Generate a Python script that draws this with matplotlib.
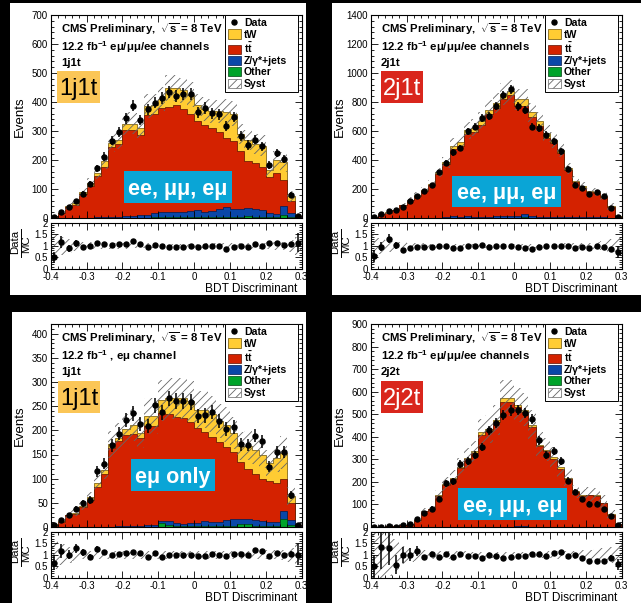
import numpy as np
import matplotlib
matplotlib.use('Agg')
import matplotlib.pyplot as plt
from matplotlib.patches import Rectangle, Patch
from matplotlib.lines import Line2D
from matplotlib.ticker import MultipleLocator, FuncFormatter

plt.rcParams['font.family'] = ['Liberation Sans', 'DejaVu Sans']
plt.rcParams['mathtext.fontset'] = 'custom'
plt.rcParams['mathtext.rm'] = 'Liberation Sans'
plt.rcParams['mathtext.bf'] = 'Liberation Sans:bold'
plt.rcParams['mathtext.it'] = 'Liberation Sans:italic'
plt.rcParams['hatch.linewidth'] = 0.6

# bins of the BDT discriminant
edges = np.linspace(-0.4, 0.3, 36)
centers = 0.5 * (edges[1:] + edges[:-1])

# 1j1t, ee/mumu/emu
tt_1 = [7,16,38,44,81,111,143,172,242,251,299,297,275,346,342,358,361,366,355,336,308,298,286,265,238,233,199,162,158,148,125,141,92,42,3]
tw_1 = [1,2,3,6,6,8,10,20,15,15,20,20,25,30,30,30,65,60,65,65,55,55,60,73,90,95,60,75,65,75,23,45,60,15,1]
zj_1 = [0,0,0,1,1,1,2,3,3,4,6,8,10,10,14,18,20,20,18,22,25,20,22,28,35,30,28,25,30,25,15,12,28,15,3]
ot_1 = [0,0,0,0,0,0,0,0,0,0,0,0,0,0,4,4,2,2,2,2,2,2,2,2,2,2,3,8,2,2,2,2,12,3,0]
data_1 = [4,21,37,57,83,117,171,212,267,296,344,387,338,375,398,413,433,422,427,427,364,379,361,358,318,348,283,252,270,247,184,224,203,80,8]
syst_1 = [0.5,0.4,0.3,0.22,0.17,0.15,0.14,0.13,0.12,0.12,0.12,0.11,0.11,0.11,0.1,0.1,0.1,0.1,0.1,0.1,0.1,0.11,0.11,0.11,0.12,0.12,0.12,0.13,0.13,0.14,0.15,0.16,0.18,0.25,0.4]

# 2j1t, ee/mumu/emu
tt_2 = [8,26,35,52,87,119,153,182,225,303,369,458,492,567,584,634,708,745,808,830,758,741,687,628,548,504,438,323,239,204,172,161,144,75,9]
tw_2 = [1,2,2,3,4,5,6,6,8,8,10,25,25,25,30,30,30,35,35,30,50,50,30,30,30,25,25,15,12,10,8,8,6,3,1]
zj_2 = [0,0,1,1,1,2,2,2,3,3,4,15,5,10,8,6,6,10,8,12,8,18,8,6,5,8,5,4,4,3,3,6,3,2,1]
ot_2 = [0,0,0,0,0,0,0,0,0,0,0,2,1,2,2,2,2,2,3,3,3,10,3,2,2,2,2,2,2,1,1,2,1,0,0]
data_2 = [5,27,50,57,76,115,154,184,227,314,379,452,482,597,631,689,705,773,849,888,769,746,631,620,574,528,459,337,230,207,168,179,149,69,8]
syst_2 = [0.45,0.35,0.25,0.2,0.15,0.13,0.12,0.11,0.1,0.1,0.1,0.1,0.1,0.1,0.09,0.09,0.09,0.09,0.09,0.09,0.09,0.09,0.09,0.1,0.1,0.1,0.1,0.11,0.12,0.13,0.14,0.16,0.2,0.28,0.4]

# 1j1t, emu only
tt_3 = [5,11,24,27,41,56,81,109,162,175,188,189,182,206,206,222,221,219,218,209,197,185,177,165,151,139,119,104,96,88,85,82,67,35,2]
tw_3 = [1,1,1,2,3,6,10,7,8,8,12,20,10,20,20,27,33,39,41,43,38,46,46,44,47,40,33,48,49,50,38,51,54,14,1]
zj_3 = [0,0,0,0,0,0,1,1,1,2,2,3,3,4,4,5,8,6,5,7,6,10,8,8,12,14,10,10,12,10,8,8,17,10,2]
ot_3 = [0,0,0,0,0,0,0,0,0,0,0,0,0,0,0,8,4,2,2,2,2,2,2,2,2,2,6,6,2,2,2,2,16,5,0]
data_3 = [4,14,25,37,49,56,115,131,169,193,221,235,213,208,252,237,266,261,261,259,230,231,238,219,202,206,171,170,189,177,125,156,156,66,5]
syst_3 = [0.6,0.45,0.35,0.25,0.2,0.18,0.17,0.16,0.16,0.16,0.16,0.16,0.16,0.16,0.16,0.16,0.16,0.16,0.16,0.16,0.16,0.16,0.16,0.16,0.17,0.17,0.17,0.18,0.18,0.19,0.2,0.2,0.22,0.3,0.5]

# 2j2t, ee/mumu/emu
tt_4 = [2,1.5,2.3,3.5,9,13,29,71,78,137,185,212,261,299,327,408,423,463,555,555,527,505,443,356,334,302,258,212,154,136,140,136,106,55,12]
tw_4 = [0,0,0,0,0,0,1,1,2,3,4,5,5,6,8,10,10,12,15,15,12,12,10,8,8,6,6,5,4,3,3,3,2,1,0]
zj_4 = [0,0,0,0,0,0,0,0,0,0,1,1,1,1,1,2,1,1,1,1,3,3,1,1,1,1,1,1,1,1,1,1,0,0,0]
ot_4 = [0]*35
data_4 = [1,2,3,2,9,13,35,64,82,125,193,202,280,292,321,355,429,461,498,517,520,505,479,384,321,336,292,206,155,122,103,103,81,49,7]
syst_4 = [1.2,1.0,0.9,0.7,0.4,0.3,0.25,0.2,0.18,0.17,0.16,0.15,0.15,0.15,0.14,0.14,0.14,0.14,0.14,0.14,0.14,0.14,0.14,0.15,0.15,0.15,0.16,0.17,0.18,0.2,0.22,0.25,0.3,0.35,0.45]

c_tw = '#FFCC33'
c_tt = '#D42200'
c_zj = '#0A47A8'
c_ot = '#00A32A'
c_hatch = '#666666'

W, H = 641, 603
fig = plt.figure(figsize=(W / 100, H / 100), dpi=100, facecolor='black')


def rect(x0, y0, x1, y1):
    return [x0 / W, 1 - y1 / H, (x1 - x0) / W, (y1 - y0) / H]


def pt(x, y):
    return x / W, 1 - y / H


def box(x0, y0, x1, y1, color, z):
    fig.add_artist(Rectangle((x0 / W, 1 - y1 / H), (x1 - x0) / W, (y1 - y0) / H,
                             transform=fig.transFigure, facecolor=color, edgecolor='none',
                             zorder=z))


# white pads, behind the axes
box(10, 3, 306, 295, 'white', -10)
box(332, 3, 641, 295, 'white', -10)
box(12, 312, 306, 603, 'white', -10)
box(332, 312, 641, 603, 'white', -10)


def style(ax, major, minor):
    ax.set_xlim(-0.4, 0.3)
    ax.xaxis.set_major_locator(MultipleLocator(0.1))
    ax.xaxis.set_minor_locator(MultipleLocator(0.02))
    ax.yaxis.set_major_locator(MultipleLocator(major))
    ax.yaxis.set_minor_locator(MultipleLocator(minor))
    ax.tick_params(which='both', direction='in', top=True, right=True, labelsize=7, pad=2)
    ax.tick_params(which='major', length=5, width=0.6)
    ax.tick_params(which='minor', length=2.5, width=0.6)
    ax.set_facecolor('white')
    for s in ax.spines.values():
        s.set_linewidth(0.8)


def panel(dx, dy, tt, tw, zj, ot, data, syst, ymax, major, minor, lumi, cat):
    tt, tw, zj, ot = map(np.array, (tt, tw, zj, ot))
    data = np.array(data, dtype=float)
    syst = np.array(syst)
    c_o = ot
    c_z = c_o + zj
    c_t = c_z + tt
    tot = c_t + tw

    ax = fig.add_axes(rect(50.7 + dx, 15 + dy, 301.7 + dx, 218 + dy))
    ax.stairs(tot, edges, fill=True, facecolor=c_tw, edgecolor='#6b5000', lw=0.5)
    ax.stairs(c_t, edges, fill=True, facecolor=c_tt, edgecolor='#5a1000', lw=0.5)
    ax.stairs(c_z, edges, fill=True, facecolor=c_zj, edgecolor='#001a50', lw=0.5)
    ax.stairs(c_o, edges, fill=True, facecolor=c_ot, edgecolor='#004010', lw=0.5)
    ax.stairs(tot * (1 + syst), edges, baseline=tot * (1 - syst), fill=True,
              facecolor='none', edgecolor=c_hatch, hatch='////', lw=0)
    ax.errorbar(centers, data, yerr=np.sqrt(data), fmt='o', ms=3.6, color='black',
                elinewidth=1.1, capsize=0, zorder=5)
    ax.set_ylim(0, ymax)
    style(ax, major, minor)
    ax.tick_params(labelbottom=False)
    ax.yaxis.set_major_formatter(FuncFormatter(lambda v, p: '%d' % v))

    handles = [Line2D([], [], marker='o', ms=3.6, color='black', ls='none'),
               Patch(facecolor=c_tw, edgecolor='#6b5000', lw=0.5),
               Patch(facecolor=c_tt, edgecolor='#5a1000', lw=0.5),
               Patch(facecolor=c_zj, edgecolor='#001a50', lw=0.5),
               Patch(facecolor=c_ot, edgecolor='#004010', lw=0.5),
               Patch(facecolor='white', edgecolor=c_hatch, hatch='////', lw=0.5)]
    labels = ['Data', 'tW', r'$\mathbf{t\bar{t}}$', 'Z/γ*+jets', 'Other', 'Syst']
    leg = ax.legend(handles, labels, loc='upper left', mode='expand',
                    bbox_to_anchor=(0.694, 0.0, 0.291, 1.0),
                    prop={'size': 7.6, 'weight': 'bold'}, frameon=True, fancybox=False,
                    edgecolor='black', framealpha=1, borderpad=0.3, labelspacing=0.1,
                    handlelength=1.2, handleheight=0.95, handletextpad=0.3, borderaxespad=0)
    leg.get_frame().set_linewidth(0.7)
    leg.set_zorder(10)

    fig.text(*pt(61 + dx, 29 + dy), r'CMS Preliminary,  $\sqrt{\mathbf{s}}$ = 8 TeV',
             fontsize=8.2, fontweight='bold', va='center')
    fig.text(*pt(61 + dx, 47 + dy), lumi, fontsize=8.2, fontweight='bold', va='center')
    fig.text(*pt(61 + dx, 63 + dy), cat, fontsize=8.2, fontweight='bold', va='center')

    fig.text(*pt(20 + dx, 117 + dy), 'Events', rotation=90, fontsize=9.5,
             ha='center', va='center')

    rx = fig.add_axes(rect(50.7 + dx, 222.7 + dy, 301.7 + dx, 269 + dy))
    rx.stairs(1 + syst, edges, baseline=1 - syst, fill=True, facecolor='none',
              edgecolor=c_hatch, hatch='////', lw=0)
    rx.errorbar(centers, data / tot, yerr=np.sqrt(data) / tot, fmt='o', ms=3.6,
                color='black', elinewidth=1.1, capsize=0, zorder=5)
    rx.set_ylim(0, 2)
    style(rx, 0.5, 0.1)
    rx.yaxis.set_major_formatter(FuncFormatter(lambda v, p: '%g' % v))
    rx.xaxis.set_major_formatter(FuncFormatter(lambda v, p: '%g' % round(v, 2)))

    # Data / MC written as a rotated fraction
    fig.text(*pt(15 + dx, 242 + dy), 'Data', rotation=90, fontsize=8.2,
             ha='center', va='center')
    fig.text(*pt(26.5 + dx, 244 + dy), 'MC', rotation=90, fontsize=8.2,
             ha='center', va='center')
    x_bar = (20.8 + dx) / W
    fig.add_artist(Line2D([x_bar, x_bar], [1 - (229 + dy) / H, 1 - (257 + dy) / H],
                          transform=fig.transFigure, color='black', lw=0.7))

    fig.text(*pt(297 + dx, 289 + dy), 'BDT Discriminant', fontsize=8.6,
             ha='right', va='center')


lumi_all = r'12.2 fb$^{\mathbf{-1}}$ eμ/μμ/ee channels'
lumi_em = r'12.2 fb$^{\mathbf{-1}}$ , eμ channel'

panel(0, 0, tt_1, tw_1, zj_1, ot_1, data_1, syst_1, 700, 100, 20, lumi_all, '1j1t')
panel(320, 0, tt_2, tw_2, zj_2, ot_2, data_2, syst_2, 1400, 200, 40, lumi_all, '2j1t')
panel(0, 309, tt_3, tw_3, zj_3, ot_3, data_3, syst_3, 420, 50, 10, lumi_em, '1j1t')
panel(320, 309, tt_4, tw_4, zj_4, ot_4, data_4, syst_4, 900, 100, 20, lumi_all, '2j2t')

# overlay tags
c_orange = '#FBC657'
c_red = '#D9261C'
c_cyan = '#0AA5D6'


def tag(x0, y0, x1, y1, color, text, tcolor, size, weight):
    box(x0, y0, x1, y1, color, 20)
    fig.text(*pt((x0 + x1) / 2, (y0 + y1) / 2), text, color=tcolor, fontsize=size,
             fontweight=weight, ha='center', va='center_baseline', zorder=21)


tag(57, 71, 100, 103, c_orange, '1j1t', 'black', 17, 'normal')
tag(381, 71, 423, 103, c_red, '2j1t', 'white', 17, 'normal')
tag(58, 381, 100, 413, c_orange, '1j1t', 'black', 17, 'normal')
tag(381, 381, 423, 413, c_red, '2j2t', 'white', 17, 'normal')
tag(124, 171, 232, 203, c_cyan, 'ee, μμ, eμ', 'white', 15.5, 'bold')
tag(452, 176, 561, 207, c_cyan, 'ee, μμ, eμ', 'white', 15.5, 'bold')
tag(131, 459, 215, 491, c_cyan, 'eμ only', 'white', 15.5, 'bold')
tag(458, 488, 567, 520, c_cyan, 'ee, μμ, eμ', 'white', 15.5, 'bold')

fig.savefig('out.png', dpi=100, facecolor='black')
